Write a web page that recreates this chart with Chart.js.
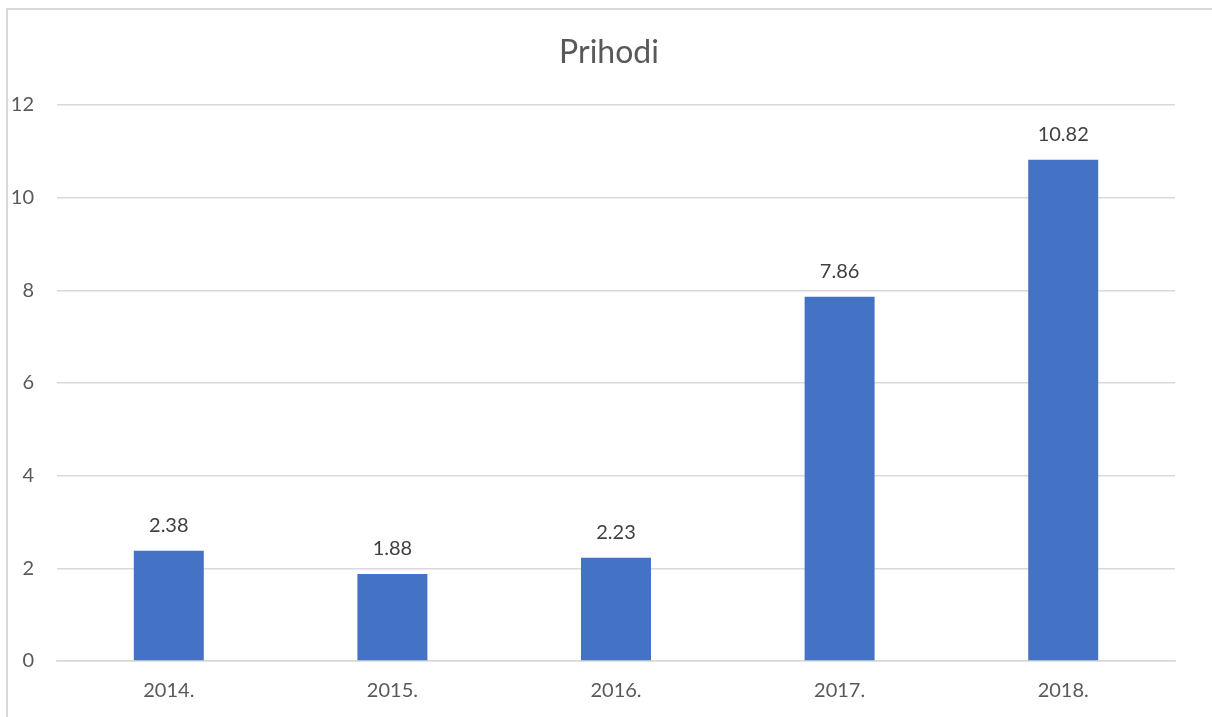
<!DOCTYPE html>
<html>
<head>
<meta charset="utf-8">
<script src="https://cdn.jsdelivr.net/npm/chart.js@4"></script>
<style>
  html, body { margin: 0; padding: 0; background: #fff; }
  #frame {
    position: absolute; left: 6px; top: 8px; width: 1206px; height: 709px;
    border-top: 2px solid #d9d9d9; border-left: 2px solid #d9d9d9;
    box-sizing: border-box;
  }
  #chart { position: absolute; left: 0; top: 0; }
</style>
</head>
<body>
<div id="frame"></div>
<canvas id="chart" width="1212" height="717"></canvas>
<script>
// 데이터
const years = ["2014.", "2015.", "2016.", "2017.", "2018."];
const prihodi = [2.38, 1.88, 2.23, 7.86, 10.82];
const yTicks = [0, 2, 4, 6, 8, 10, 12];

const fontFamily = "Lato, 'Open Sans', sans-serif";

// 막대 위 값 표시
const valueLabels = {
  id: "valueLabels",
  afterDatasetsDraw(chart) {
    const ctx = chart.ctx;
    const meta = chart.getDatasetMeta(0);
    ctx.save();
    ctx.font = "20px " + fontFamily;
    ctx.fillStyle = "#404040";
    ctx.textAlign = "center";
    ctx.textBaseline = "middle";
    meta.data.forEach((bar, i) => {
      ctx.fillText(prihodi[i].toFixed(2), bar.x, bar.y - 25);
    });
    ctx.restore();
  },
};

new Chart(document.getElementById("chart").getContext("2d"), {
  type: "bar",
  data: {
    labels: years,
    datasets: [
      {
        label: "Prihodi",
        data: prihodi,
        backgroundColor: "#4472C4",
        barPercentage: 0.313,
        categoryPercentage: 1,
      },
    ],
  },
  options: {
    responsive: false,
    animation: false,
    layout: { padding: { left: 6, right: 0, top: 0, bottom: 14 } },
    plugins: {
      legend: { display: false },
      tooltip: { enabled: false },
      title: {
        display: true,
        text: "Prihodi",
        color: "#595959",
        font: { family: fontFamily, size: 32, weight: "normal", lineHeight: 1.2 },
        padding: { top: 33, bottom: 33.6 },
      },
    },
    scales: {
      x: {
        grid: { display: false, drawTicks: false },
        border: { display: true, color: "#d9d9d9", width: 1.5 },
        ticks: {
          color: "#595959",
          font: { family: fontFamily, size: 20 },
          padding: 18,
        },
        afterFit(scale) { scale.height = 42; },
      },
      y: {
        min: 0,
        max: 12,
        afterBuildTicks(scale) {
          scale.ticks = yTicks.map((v) => ({ value: v }));
        },
        grid: { color: "#d9d9d9", lineWidth: 1.5, drawTicks: false },
        border: { display: false },
        ticks: {
          color: "#595959",
          font: { family: fontFamily, size: 20 },
          padding: 23,
        },
        afterFit(scale) { scale.width = 51; },
      },
      // 오른쪽 여백용 빈 축
      yRight: {
        position: "right",
        min: 0,
        max: 12,
        grid: { display: false, drawTicks: false },
        border: { display: false },
        ticks: { display: false },
        afterFit(scale) { scale.width = 37; },
      },
    },
  },
  plugins: [valueLabels],
});
</script>
</body>
</html>
